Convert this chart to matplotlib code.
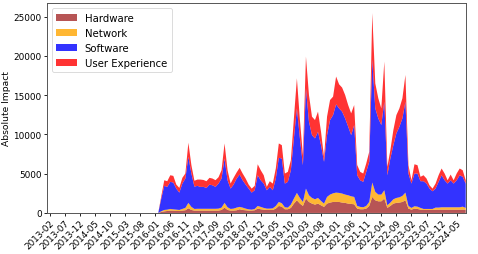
import matplotlib
matplotlib.use("Agg")
import matplotlib.pyplot as plt
import pandas as pd

months = pd.date_range("2013-01", periods=140, freq="MS").strftime("%Y-%m").tolist()

series_names = ["Hardware", "Network", "Software", "User Experience"]
series_colors = ["brown", "orange", "blue", "red"]

zeros_head = [0, 0, 0, 0, 0, 0, 0, 0, 0, 0, 0, 0, 0, 0, 0, 0, 0, 0, 0,
              0, 0, 0, 0, 0, 0, 0, 0, 0, 0, 0, 0, 0, 0, 0, 0, 0, 0, 0]

hardware = zeros_head + [
    130, 200, 250, 300, 300, 255, 255, 300, 340, 590, 380, 300, 300, 300, 300, 300, 300, 300, 300, 300,
    380, 680, 380, 300, 300, 340, 470, 380, 340, 300, 300, 340, 550, 470, 420, 380, 380, 380, 550, 890,
    800, 470, 470, 640, 1190, 1610, 1190, 890, 1830, 1400, 1190, 1060, 1190, 970, 770, 1190, 1320, 1400, 1400, 1400,
    1320, 1280, 1190, 1150, 1100, 550, 470, 470, 550, 890, 2040, 1610, 1480, 1480, 1830, 640, 890, 1190, 1280, 1320,
    1400, 1610, 550, 420, 550, 510, 420, 380, 380, 380, 380, 420, 420, 420, 420, 420, 420, 420, 420, 420,
    420, 420]

network = zeros_head + [
    80, 180, 170, 210, 160, 165, 125, 210, 300, 690, 390, 210, 230, 230, 230, 230, 230, 230, 230, 250,
    300, 600, 340, 210, 250, 340, 300, 300, 210, 160, 120, 170, 340, 300, 220, 170, 170, 210, 340, 510,
    430, 250, 210, 420, 640, 940, 720, 510, 1270, 850, 720, 680, 720, 560, 420, 850, 1020, 1100, 1190, 1150,
    1150, 1060, 1060, 970, 940, 340, 300, 250, 340, 510, 1830, 1070, 860, 860, 1060, 330, 430, 550, 630, 670,
    770, 980, 340, 220, 300, 290, 220, 130, 130, 130, 130, 260, 260, 300, 300, 300, 300, 300, 300, 300,
    380, 220]

software = zeros_head + [
    1600, 3070, 2900, 3450, 3410, 2680, 2210, 3230, 3740, 5870, 4250, 2840, 2920, 2790, 2790, 2660, 3080, 2990, 2790, 3190,
    3700, 5650, 3440, 2590, 3060, 3700, 4120, 3480, 3060, 2640, 2170, 2380, 3910, 3390, 3100, 2340, 2770, 2300, 3490, 5620,
    5700, 3020, 3280, 4380, 7660, 10760, 7580, 4680, 12770, 9370, 8000, 7750, 8430, 7100, 5320, 7870, 9490, 9960, 11240, 10760,
    10430, 9700, 8750, 7790, 9150, 3910, 3390, 3240, 4340, 5110, 15670, 10630, 9700, 8850, 11280, 3830, 5610, 6890, 8220, 8990,
    9870, 11580, 4130, 3100, 4170, 4220, 3400, 3530, 3230, 2590, 2250, 2420, 3280, 4080, 3440, 3020, 3440, 3020, 3440, 4080,
    3800, 3100]

user_experience = zeros_head + [
    300, 710, 720, 840, 850, 510, 600, 730, 640, 1790, 1060, 750, 800, 930, 880, 850, 860, 860, 850, 810,
    1060, 1920, 1280, 640, 860, 770, 860, 860, 770, 510, 510, 560, 1400, 1280, 1060, 430, 720, 850, 1280, 1830,
    1700, 1280, 1270, 1280, 2550, 3840, 2340, 1280, 4050, 3400, 2350, 2340, 2560, 1710, 600, 2350, 2550, 2350, 3540, 3070,
    3060, 2980, 2740, 2770, 2550, 1300, 1070, 1060, 1070, 1280, 5910, 3190, 2560, 2120, 5110, 1070, 1060, 1920, 2330, 2330,
    2560, 3400, 1060, 420, 1180, 1060, 560, 760, 640, 420, 340, 640, 840, 860, 860, 420, 730, 420, 860, 860,
    840, 420]

tick_step = 5
tick_start = 1

fig = plt.figure(figsize=(4.78, 2.55), dpi=100)
ax = fig.add_axes([0.0977, 0.161, 0.8766, 0.823])
x = list(range(len(months)))
ax.stackplot(x, hardware, network, software, user_experience,
             labels=series_names, colors=series_colors, alpha=0.8)
ax.set_xlim(x[0], x[-1])
ax.margins(y=0.05)
ax.set_ylim(bottom=0)

tick_pos = x[tick_start::tick_step]
ax.set_xticks(tick_pos)
ax.set_xticklabels([months[i] for i in tick_pos], rotation=45, ha="right",
                   rotation_mode="anchor", fontsize=6.4)
ax.tick_params(axis="y", labelsize=6.4, length=2.2, width=0.6, pad=1.5)
ax.tick_params(axis="x", length=2.2, width=0.6, pad=1.5)
ax.set_ylabel("Absolute Impact", fontsize=6.6, labelpad=2)
for s in ax.spines.values():
    s.set_linewidth(0.7)
    s.set_color("#555555")

leg = ax.legend(loc="upper left", fontsize=7.3, frameon=True, handlelength=2.0,
                borderpad=0.45, labelspacing=0.5, handletextpad=0.8)
leg.get_frame().set_linewidth(0.6)

fig.savefig("out.png", dpi=100)
